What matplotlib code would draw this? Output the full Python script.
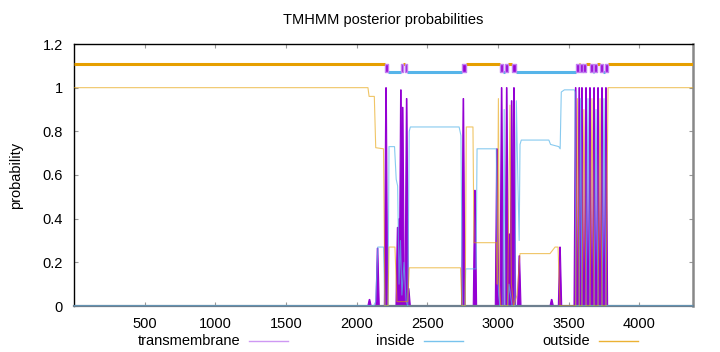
import numpy as np
import matplotlib.pyplot as plt
from matplotlib.lines import Line2D

plt.rcParams['font.family'] = ['Liberation Sans', 'DejaVu Sans']
plt.rcParams['font.size'] = 10.5

# ---- data (sequence positions / posterior probabilities) ----
seq_len = 4380

# transmembrane posterior: peak position, peak height
tm_pos = [2091, 2148, 2208, 2290, 2302, 2313, 2326, 2354, 2368,
          2755, 2837,
          2993, 3026, 3062, 3080, 3097, 3113, 3151,
          3380, 3439,
          3550, 3575, 3594, 3623, 3651, 3680, 3708, 3736, 3764]
tm_height = [0.03, 0.265, 1.0, 0.36, 0.40, 0.99, 0.91, 0.95, 0.08,
             0.95, 0.53,
             0.72, 1.0, 1.0, 0.33, 0.94, 1.0, 0.23,
             0.03, 0.27,
             1.0, 1.0, 1.0, 1.0, 1.0, 1.0, 1.0, 1.0, 1.0]

# inside posterior (breakpoints)
inside_pos = [0, 2120, 2135, 2150, 2190, 2200, 2222, 2229, 2268, 2280, 2290,
              2300, 2310, 2320, 2335, 2350, 2362, 2372, 2380, 2725, 2738, 2748,
              2765, 2772, 2845, 2852, 2988, 2995, 3005, 3015, 3035, 3044, 3050,
              3070, 3078, 3100, 3120, 3130, 3140, 3150, 3156, 3165, 3360, 3372,
              3430, 3440, 3448, 3470, 3540, 3545, 3550, 3575, 3585, 3594, 3623,
              3637, 3651, 3680, 3694, 3708, 3736, 3750, 3764, 3779, seq_len]
inside_val = [0.0, 0.0, 0.02, 0.27, 0.27, 0.0, 0.0, 0.73, 0.73, 0.58, 0.55,
              0.10, 0.30, 0.05, 0.20, 0.02, 0.0, 0.80, 0.82, 0.82, 0.78, 0.0,
              0.0, 0.17, 0.17, 0.72, 0.72, 0.20, 0.05, 0.0, 0.0, 0.90, 0.0,
              0.0, 0.10, 0.0, 0.0, 0.94, 0.60, 0.30, 0.74, 0.76, 0.76, 0.74,
              0.73, 0.72, 0.98, 0.99, 0.99, 0.98, 0.0, 0.0, 0.95, 0.0, 0.0,
              0.95, 0.0, 0.0, 0.90, 0.0, 0.0, 0.95, 0.0, 0.0, 0.0]

# outside posterior (breakpoints)
outside_pos = [0, 2080, 2088, 2125, 2135, 2190, 2200, 2222, 2229, 2271, 2285,
               2362, 2372, 2735, 2745, 2768, 2776, 2823, 2830, 2990, 2995,
               3003, 3010, 3020, 3068, 3085, 3095, 3110, 3135, 3156, 3368,
               3404, 3425, 3439, 3545, 3550, 3562, 3575, 3594, 3608, 3623,
               3651, 3665, 3680, 3708, 3722, 3736, 3764, 3779, seq_len]
outside_val = [1.0, 1.0, 0.96, 0.96, 0.725, 0.72, 0.0, 0.0, 0.27, 0.27, 0.02,
               0.02, 0.175, 0.175, 0.0, 0.0, 0.82, 0.82, 0.29, 0.29, 0.10,
               0.95, 0.10, 0.0, 0.0, 0.92, 0.10, 0.0, 0.05, 0.24, 0.24,
               0.27, 0.27, 0.0, 0.0, 0.0, 0.95, 0.0, 0.0, 0.90, 0.0,
               0.0, 0.95, 0.0, 0.0, 0.95, 0.0, 0.0, 1.0, 1.0]

# predicted topology: segment start, end, label (o=outside, i=inside, M=membrane)
topo_start = [0, 2201, 2225, 2312, 2330, 2340, 2358, 2748, 2772, 3014, 3038,
              3050, 3073, 3101, 3125, 3550, 3573, 3580, 3601, 3605, 3622,
              3651, 3670, 3679, 3698, 3722, 3743, 3757, 3776]
topo_end = [2201, 2225, 2312, 2330, 2340, 2358, 2748, 2772, 3014, 3038, 3050,
            3073, 3101, 3125, 3550, 3573, 3580, 3601, 3605, 3622, 3651,
            3670, 3679, 3698, 3722, 3743, 3757, 3776, seq_len]
topo_label = ['o', 'M', 'i', 'M', 'o', 'M', 'i', 'M', 'o', 'M', 'i',
              'M', 'o', 'M', 'i', 'M', 'o', 'M', 'i', 'M', 'o',
              'M', 'i', 'M', 'o', 'M', 'i', 'M', 'o']

xticks = [500, 1000, 1500, 2000, 2500, 3000, 3500, 4000]
yticks = [0, 0.2, 0.4, 0.6, 0.8, 1.0, 1.2]
ytick_labels = ['0', '0.2', '0.4', '0.6', '0.8', '1', '1.2']

tm_color = '#9400d3'
tm_light = '#c27ff0'
in_color = '#56b4e9'
out_color = '#e69f00'

# ---- figure ----
fig = plt.figure(figsize=(7.2, 3.52), dpi=100)
ax = fig.add_axes([74 / 720, 1 - 306 / 352, (693 - 74) / 720, (306 - 44) / 352])

half_w = 12
for p, h in zip(tm_pos, tm_height):
    ax.fill([p - half_w, p - 2, p + 2, p + half_w], [0, h, h, 0],
            color=tm_color, lw=0.8, ec=tm_color, zorder=2)

ax.plot(inside_pos, inside_val, color=in_color, lw=0.8, alpha=0.7, zorder=3)
ax.plot(outside_pos, outside_val, color=out_color, lw=0.8, alpha=0.6, zorder=3)

# topology bar on top
for s, e, lab in zip(topo_start, topo_end, topo_label):
    if lab == 'o':
        ax.plot([s, e], [1.11, 1.11], color=out_color, lw=2.2,
                solid_capstyle='butt', zorder=4)
    elif lab == 'i':
        ax.plot([s, e], [1.07, 1.07], color=in_color, lw=2.2,
                solid_capstyle='butt', zorder=4)
    else:
        ax.fill_between([s, e], 1.07, 1.11, color=tm_color, ec=tm_light,
                        lw=1.0, zorder=5)

ax.set_xlim(0, seq_len)
ax.set_ylim(0, 1.2)
ax.set_xticks(xticks)
ax.set_yticks(yticks)
ax.set_yticklabels(ytick_labels)
ax.tick_params(direction='in', length=3, top=True, right=True,
               color='#999999', pad=8, labelsize=10.5)

for side in ['left', 'top']:
    ax.spines[side].set_color('black')
    ax.spines[side].set_linewidth(1.0)
ax.spines['bottom'].set_color('#6d7f8f')
ax.spines['bottom'].set_linewidth(1.6)
ax.spines['right'].set_color('#888888')
ax.spines['right'].set_linewidth(1.8)

ax.set_ylabel('probability', labelpad=14)
fig.text(383 / 720, 1 - 20 / 352, 'TMHMM posterior probabilities',
         ha='center', va='center', fontsize=10.5)

# legend along the bottom
leg_y = 1 - 341 / 352
legend_items = [('transmembrane', 240, 249, 288, tm_light),
                ('inside', 415, 424, 463, in_color),
                ('outside', 590, 599, 638, out_color)]
for label, tx, x0, x1, col in legend_items:
    fig.text(tx / 720, leg_y, label, ha='right', va='center', fontsize=10.5)
    fig.add_artist(Line2D([x0 / 720, x1 / 720], [leg_y, leg_y], color=col,
                          lw=1.0, alpha=0.8, transform=fig.transFigure))

fig.savefig('out.png', dpi=100)
